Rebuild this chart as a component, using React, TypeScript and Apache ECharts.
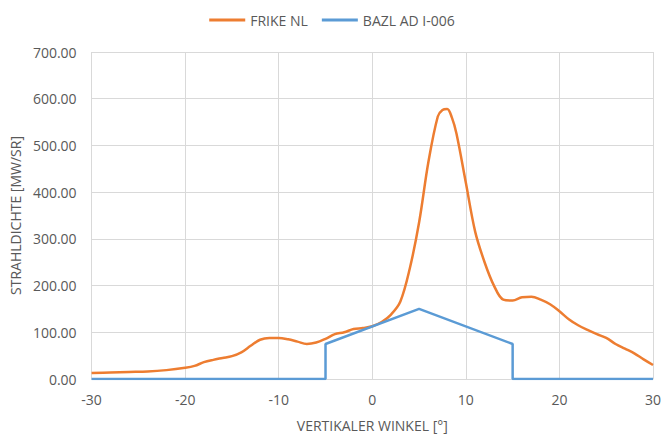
import React, { useEffect, useRef } from "react";
import * as echarts from "echarts";

const FRIKE_X = [-30, -28, -26, -24, -22, -20, -19, -18, -17, -16, -15, -14, -13, -12, -11, -10, -9, -8, -7, -6, -5, -4, -3, -2, -1, 0, 1, 2, 3, 4, 5, 6, 7, 7.5, 8, 8.5, 9, 10, 11, 12, 13, 14, 15, 16, 17, 18, 19, 20, 21, 22, 23, 24, 25, 26, 27, 28, 29, 30];
const FRIKE_Y = [13, 14, 15, 16, 19, 24, 28, 36, 41, 45, 49, 57, 71, 84, 88, 88, 85, 80, 75, 78, 86, 96, 100, 107, 109, 113, 122, 138, 166, 236, 335, 465, 562, 576, 578, 560, 525, 420, 315, 250, 200, 170, 168, 175, 176, 170, 160, 145, 128, 115, 105, 96, 88, 75, 65, 55, 42, 30];
const BAZL_X = [-30, -5, -5, 5, 15, 15, 30];
const BAZL_Y = [0, 0, 75, 150, 75, 0, 0];
const SERIES_NAMES = ["FRIKE NL", "BAZL AD I-006"];

export default function App() {
  const ref = useRef<HTMLDivElement>(null);
  useEffect(() => {
    if (!ref.current) return;
    const chart = echarts.init(ref.current, null, { renderer: "svg" });
    const font = "'Open Sans', 'Liberation Sans', sans-serif";
    const grey = "#595959";
    chart.setOption({
      animation: false,
      textStyle: { fontFamily: font },
      legend: {
        top: 8,
        left: "center",
        itemWidth: 36,
        itemHeight: 3,
        itemGap: 14,
        textStyle: { color: grey, fontSize: 14, fontFamily: font },
        data: SERIES_NAMES.map((n) => ({ name: n, icon: "rect" })),
      },
      grid: { left: 88, right: 7, top: 52, bottom: 56 },
      xAxis: {
        type: "value",
        min: -30,
        max: 30,
        interval: 10,
        name: "VERTIKALER WINKEL [°]",
        nameLocation: "middle",
        nameGap: 39,
        nameTextStyle: { color: grey, fontSize: 14 },
        axisLine: { show: true, onZero: false, lineStyle: { color: "#D9D9D9" } },
        axisTick: { show: false },
        axisLabel: { color: grey, fontSize: 14, margin: 13 },
        splitLine: { show: true, lineStyle: { color: "#D9D9D9" } },
      },
      yAxis: {
        type: "value",
        min: 0,
        max: 700,
        interval: 100,
        name: "STRAHLDICHTE [MW/SR]",
        nameLocation: "middle",
        nameGap: 66,
        nameTextStyle: { color: grey, fontSize: 14 },
        axisLine: { show: false },
        axisTick: { show: false },
        axisLabel: { color: grey, fontSize: 14, margin: 15, formatter: (v: number) => v.toFixed(2) },
        splitLine: { show: true, lineStyle: { color: "#D9D9D9" } },
      },
      series: [
        {
          name: SERIES_NAMES[0],
          type: "line",
          smooth: 0.35,
          showSymbol: false,
          data: FRIKE_X.map((x, i) => [x, FRIKE_Y[i]]),
          lineStyle: { color: "#ED7D31", width: 2.5 },
          itemStyle: { color: "#ED7D31" },
        },
        {
          name: SERIES_NAMES[1],
          type: "line",
          showSymbol: false,
          data: BAZL_X.map((x, i) => [x, BAZL_Y[i]]),
          lineStyle: { color: "#5B9BD5", width: 2.5 },
          itemStyle: { color: "#5B9BD5" },
        },
      ],
    });
    return () => chart.dispose();
  }, []);
  return <div ref={ref} style={{ width: 664, height: 437, position: "absolute", left: 0, top: 0 }} />;
}
